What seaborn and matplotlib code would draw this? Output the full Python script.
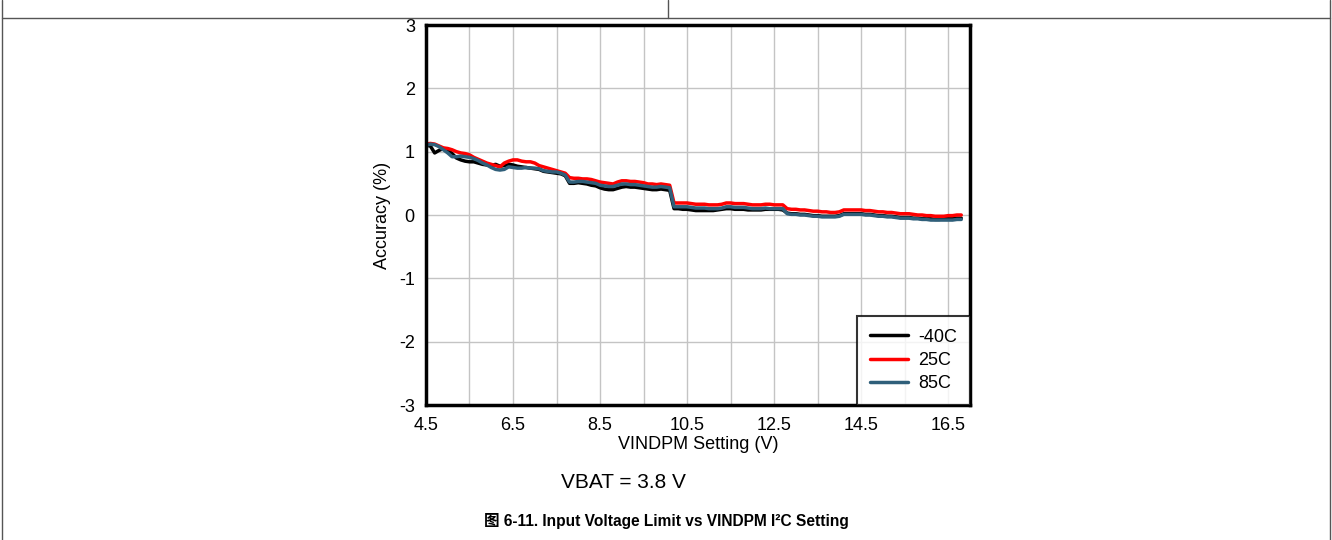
import matplotlib
matplotlib.use("Agg")
import matplotlib.pyplot as plt
from matplotlib.lines import Line2D
import seaborn as sns
import pandas as pd

# VINDPM setting (V), 100 mV steps
VINDPM_V = [
    4.5, 4.6, 4.7, 4.8, 4.9, 5.0, 5.1, 5.2, 5.3, 5.4,
    5.5, 5.6, 5.7, 5.8, 5.9, 6.0, 6.1, 6.2, 6.3, 6.4,
    6.5, 6.6, 6.7, 6.8, 6.9, 7.0, 7.1, 7.2, 7.3, 7.4,
    7.5, 7.6, 7.7, 7.8, 7.9, 8.0, 8.1, 8.2, 8.3, 8.4,
    8.5, 8.6, 8.7, 8.8, 8.9, 9.0, 9.1, 9.2, 9.3, 9.4,
    9.5, 9.6, 9.7, 9.8, 9.9, 10.0, 10.1, 10.2, 10.3, 10.4,
    10.5, 10.6, 10.7, 10.8, 10.9, 11.0, 11.1, 11.2, 11.3, 11.4,
    11.5, 11.6, 11.7, 11.8, 11.9, 12.0, 12.1, 12.2, 12.3, 12.4,
    12.5, 12.6, 12.7, 12.8, 12.9, 13.0, 13.1, 13.2, 13.3, 13.4,
    13.5, 13.6, 13.7, 13.8, 13.9, 14.0, 14.1, 14.2, 14.3, 14.4,
    14.5, 14.6, 14.7, 14.8, 14.9, 15.0, 15.1, 15.2, 15.3, 15.4,
    15.5, 15.6, 15.7, 15.8, 15.9, 16.0, 16.1, 16.2, 16.3, 16.4,
    16.5, 16.6, 16.7, 16.8,
]

# Accuracy (%) por temperatura
ACC_M40C = [
    1.10, 1.09, 0.98, 1.02, 1.05, 1.03, 0.97, 0.90, 0.87, 0.85,
    0.84, 0.84, 0.82, 0.80, 0.79, 0.78, 0.80, 0.77, 0.78, 0.80,
    0.79, 0.77, 0.76, 0.75, 0.74, 0.73, 0.72, 0.69, 0.68, 0.67,
    0.66, 0.65, 0.62, 0.50, 0.50, 0.51, 0.50, 0.49, 0.47, 0.46,
    0.43, 0.41, 0.40, 0.40, 0.42, 0.44, 0.45, 0.44, 0.44, 0.43,
    0.42, 0.41, 0.40, 0.40, 0.41, 0.40, 0.39, 0.10, 0.10, 0.09,
    0.09, 0.08, 0.07, 0.07, 0.07, 0.07, 0.07, 0.08, 0.09, 0.10,
    0.10, 0.09, 0.09, 0.09, 0.08, 0.08, 0.08, 0.08, 0.09, 0.09,
    0.09, 0.09, 0.08, 0.03, 0.02, 0.02, 0.01, 0.01, 0.00, -0.01,
    -0.01, -0.02, -0.02, -0.02, -0.02, -0.01, 0.02, 0.02, 0.02, 0.02,
    0.02, 0.01, 0.01, 0.00, -0.01, -0.01, -0.02, -0.02, -0.03, -0.04,
    -0.04, -0.04, -0.05, -0.05, -0.06, -0.06, -0.06, -0.07, -0.07, -0.06,
    -0.06, -0.06, -0.05, -0.05,
]
ACC_25C = [
    1.12, 1.13, 1.12, 1.09, 1.06, 1.05, 1.03, 1.00, 0.98, 0.97,
    0.95, 0.91, 0.88, 0.85, 0.82, 0.80, 0.78, 0.76, 0.82, 0.85,
    0.87, 0.87, 0.85, 0.84, 0.84, 0.82, 0.78, 0.76, 0.74, 0.72,
    0.70, 0.68, 0.66, 0.59, 0.58, 0.58, 0.57, 0.57, 0.56, 0.54,
    0.52, 0.51, 0.50, 0.49, 0.52, 0.54, 0.54, 0.53, 0.53, 0.52,
    0.51, 0.49, 0.49, 0.48, 0.49, 0.48, 0.47, 0.19, 0.19, 0.19,
    0.19, 0.18, 0.17, 0.17, 0.17, 0.16, 0.16, 0.16, 0.17, 0.19,
    0.19, 0.18, 0.18, 0.18, 0.17, 0.16, 0.16, 0.16, 0.17, 0.17,
    0.16, 0.16, 0.16, 0.10, 0.09, 0.09, 0.08, 0.08, 0.07, 0.06,
    0.06, 0.05, 0.05, 0.04, 0.04, 0.05, 0.08, 0.08, 0.08, 0.08,
    0.08, 0.07, 0.07, 0.06, 0.05, 0.05, 0.04, 0.04, 0.03, 0.02,
    0.02, 0.02, 0.01, 0.00, 0.00, -0.01, -0.01, -0.02, -0.02, -0.02,
    -0.01, -0.01, 0.00, 0.00,
]
ACC_85C = [
    1.10, 1.12, 1.11, 1.08, 1.03, 0.98, 0.92, 0.92, 0.93, 0.92,
    0.91, 0.89, 0.86, 0.82, 0.79, 0.75, 0.72, 0.71, 0.72, 0.76,
    0.75, 0.74, 0.74, 0.75, 0.74, 0.74, 0.73, 0.70, 0.69, 0.68,
    0.68, 0.66, 0.63, 0.52, 0.52, 0.53, 0.53, 0.52, 0.51, 0.50,
    0.47, 0.46, 0.45, 0.45, 0.47, 0.49, 0.49, 0.48, 0.48, 0.47,
    0.46, 0.45, 0.44, 0.44, 0.45, 0.44, 0.43, 0.13, 0.13, 0.13,
    0.13, 0.12, 0.11, 0.11, 0.11, 0.10, 0.10, 0.10, 0.11, 0.13,
    0.13, 0.12, 0.12, 0.12, 0.11, 0.10, 0.10, 0.10, 0.11, 0.10,
    0.10, 0.10, 0.10, 0.02, 0.01, 0.01, 0.00, 0.00, -0.01, -0.02,
    -0.02, -0.03, -0.03, -0.03, -0.03, -0.02, 0.01, 0.01, 0.01, 0.01,
    0.01, 0.00, 0.00, -0.01, -0.02, -0.02, -0.03, -0.03, -0.04, -0.05,
    -0.05, -0.05, -0.06, -0.06, -0.07, -0.07, -0.08, -0.08, -0.08, -0.08,
    -0.08, -0.08, -0.07, -0.07,
]

SERIES = ["-40C", "25C", "85C"]
CORES = {"-40C": "#000000", "25C": "#FF0000", "85C": "#2F5F7A"}
X_MAJOR = [4.5, 6.5, 8.5, 10.5, 12.5, 14.5, 16.5]
X_MINOR = [5.5, 7.5, 9.5, 11.5, 13.5, 15.5]
Y_TICKS = [-3, -2, -1, 0, 1, 2, 3]

sns.set_theme(style="white")
plt.rcParams["font.family"] = ["Liberation Sans", "Noto Sans CJK SC"]
plt.rcParams["axes.unicode_minus"] = False
plt.rcParams["text.color"] = "black"
plt.rcParams["axes.labelcolor"] = "black"

df = pd.DataFrame({
    "vindpm": VINDPM_V * 3,
    "acc": ACC_M40C + ACC_25C + ACC_85C,
    "temp": [s for s in SERIES for _ in VINDPM_V],
})

fig = plt.figure(figsize=(13.32, 5.4), dpi=100)
fig.patch.set_facecolor("white")
ax = fig.add_axes([0.3198, 0.25, 0.4084, 0.7037])

sns.lineplot(data=df, x="vindpm", y="acc", hue="temp", hue_order=SERIES,
             palette=CORES, linewidth=2.5, estimator=None, sort=False, ax=ax)

ax.set_xlim(4.5, 17.0)
ax.set_ylim(-3, 3)
ax.set_xticks(X_MAJOR)
ax.set_xticks(X_MINOR, minor=True)
ax.set_yticks(Y_TICKS)
ax.grid(which="both", color="#C4C4C4", linewidth=1)
ax.set_axisbelow(True)
ax.tick_params(which="both", length=0, labelsize=13, colors="black")
ax.tick_params(axis="x", pad=9)
ax.tick_params(axis="y", pad=8)
for sp in ax.spines.values():
    sp.set_color("black")
    sp.set_linewidth(2.5)

ax.set_xlabel("VINDPM Setting (V)", fontsize=13, labelpad=1)
ax.set_ylabel("Accuracy (%)", fontsize=13, labelpad=6)

leg = ax.legend(loc="lower right", borderaxespad=0, fontsize=13,
                frameon=True, fancybox=False, edgecolor="black",
                handlelength=2.1, handletextpad=0.6, labelspacing=0.35,
                borderpad=0.7)
leg.get_frame().set_linewidth(1.5)
for ln in leg.get_lines():
    ln.set_linewidth(2.5)

fig.text(0.4677, 0.106, "VBAT = 3.8 V", ha="center", va="center", fontsize=15)
fig.text(0.5, 0.035, "图 6-11. Input Voltage Limit vs VINDPM I²C Setting",
         ha="center", va="center", fontsize=11.2, fontweight="bold")

# bordas da tabela do datasheet
borda = dict(color="#555555", linewidth=1)
fig.add_artist(Line2D([0.0015, 0.9985], [0.9667, 0.9667], **borda))
fig.add_artist(Line2D([0.5015, 0.5015], [0.9667, 1.0], **borda))
fig.add_artist(Line2D([0.0015, 0.0015], [0.0, 1.0], **borda))
fig.add_artist(Line2D([0.9985, 0.9985], [0.0, 1.0], **borda))

fig.savefig("out.png", dpi=100)
plt.close(fig)
